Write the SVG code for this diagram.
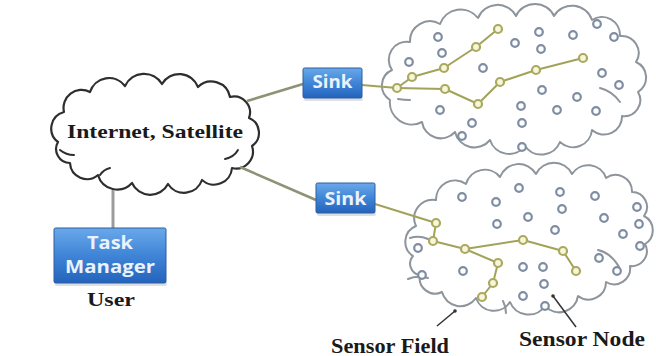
<svg xmlns="http://www.w3.org/2000/svg" width="656" height="356" viewBox="0 0 656 356">
<defs>
<linearGradient id="blue" x1="0" y1="0" x2="0" y2="1">
<stop offset="0" stop-color="#6aa8ea"/>
<stop offset="0.5" stop-color="#3f85d6"/>
<stop offset="1" stop-color="#2463bd"/>
</linearGradient>
<style>
.cloudI{fill:#fff;stroke:#2e2e2e;stroke-width:2.2;stroke-linejoin:round}
.cloudS{fill:#fff;stroke:#8d949b;stroke-width:2;stroke-linejoin:round}
.inI{fill:none;stroke:#2e2e2e;stroke-width:2;stroke-linecap:round}
.inS{fill:none;stroke:#8d949b;stroke-width:2;stroke-linecap:round}
.sn{fill:#fff;stroke:#7f8da3;stroke-width:2.2}
.pn{fill:#f7f6d8;stroke:#a9a960;stroke-width:2.2}
.route{fill:none;stroke:#a2a25a;stroke-width:2;stroke-linejoin:round}
.link{fill:none;stroke:#8f9275;stroke-width:2.6}
.vlink{fill:none;stroke:#9c9c9c;stroke-width:3}
.box{fill:url(#blue);stroke:#2d5f9e;stroke-width:1}
.shadow{fill:#9aa4b0;opacity:0.35}
.btxt{font-family:"Open Sans","DejaVu Sans",sans-serif;font-weight:bold;fill:#eaf2fb;text-anchor:middle}
.lbl{font-family:"Liberation Serif","Times New Roman",serif;font-weight:bold;fill:#1a1a1a}
.ptr{stroke:#333;stroke-width:1.5;fill:none}
</style>
</defs>
<rect width="656" height="356" fill="#fff"/>

<g id="internet">
<path class="cloudI" d="M58,142 A17,17 0 0 1 64,112 A18,18 0 0 1 90,92 A20,20 0 0 1 125,86 A21,21 0 0 1 162,84 A20,20 0 0 1 198,87 A19,19 0 0 1 230,97 A16,16 0 0 1 249,118 A16,16 0 0 1 252,146 A17,17 0 0 1 232,168 A18,18 0 0 1 202,180 A19,19 0 0 1 168,184 A20,20 0 0 1 132,183 A20,20 0 0 1 98,175 A17,17 0 0 1 70,163 A14,14 0 0 1 58,142 Z"/>
<path class="inI" d="M60,150 q6,5 14,5"/>
<path class="inI" d="M238,150 q-4,7 -13,9"/>
<path class="inI" d="M100,175 q3,-5 10,-7"/>
<text class="lbl" x="67" y="138" font-size="19" textLength="176" lengthAdjust="spacingAndGlyphs">Internet, Satellite</text>
</g>

<g id="field1">
<path class="cloudS" d="M390,100 A17,17 0 0 1 392,70 A18,18 0 0 1 410,42 A20,20 0 0 1 440,24 A22,22 0 0 1 478,18 A21,21 0 0 1 516,16 A21,21 0 0 1 554,16 A21,21 0 0 1 592,20 A18,18 0 0 1 620,36 A17,17 0 0 1 636,62 A17,17 0 0 1 638,92 A16,16 0 0 1 622,116 A18,18 0 0 1 592,130 A19,19 0 0 1 560,142 A20,20 0 0 1 525,146 A20,20 0 0 1 490,140 A20,20 0 0 1 455,132 A19,19 0 0 1 422,122 A22,22 0 0 1 390,100 Z"/>
<path class="inS" d="M398,99 q6,1 12,1"/>
<path class="inS" d="M600,88 q12,3 20,14"/>
</g>

<g id="field2">
<path class="cloudS" d="M413,256 A17,17 0 0 1 416,226 A18.5,18.5 0 0 1 436,200 A19,19 0 0 1 466,184 A19.5,19.5 0 0 1 500,177 A20,20 0 0 1 536,174 A20,20 0 0 1 572,174 A19,19 0 0 1 606,178 A16.5,16.5 0 0 1 632,192 A15,15 0 0 1 644,216 A16,16 0 0 1 645,244 A15,15 0 0 1 630,266 A16,16 0 0 1 606,282 A17.5,17.5 0 0 1 578,296 A19,19 0 0 1 545,306 A20,20 0 0 1 510,302 A19,19 0 0 1 476,298 A19,19 0 0 1 442,292 A15.5,15.5 0 0 1 420,275 A11.5,11.5 0 0 1 413,256 Z"/>
<path class="inS" d="M410,238 q9,-3 18,1"/>
<path class="inS" d="M408,279 q9,-4 20,-1"/>
<path class="inS" d="M598,250 q13,3 21,17"/>
<path class="inS" d="M503,301 q3,6 3,12"/>
</g>

<g id="connectors">
<line class="link" x1="247" y1="101" x2="303" y2="84"/>
<line class="link" x1="240" y1="167" x2="316" y2="200"/>
<line class="vlink" x1="113" y1="190" x2="113" y2="228"/>
<polyline class="route" points="362,85 397,88 412,77 444,68 476,47 498,29"/>
<polyline class="route" points="397,88 445,89 478,104 500,82 536,70 583,58"/>
<polyline class="route" points="375,204 436,223 433,241 465,249 523,240 563,251 576,271"/>
<polyline class="route" points="465,249 498,263 493,283 482,297"/>
<line class="ptr" x1="437" y1="326" x2="455" y2="311"/>
<circle cx="455" cy="311" r="1.8" fill="#333"/>
<line class="ptr" x1="576" y1="327" x2="553" y2="296"/>
<circle cx="553" cy="296" r="1.8" fill="#333"/>
</g>

<g id="sensor-nodes">
<circle class="sn" cx="438" cy="37" r="3.8"/><circle class="sn" cx="442" cy="53" r="3.8"/><circle class="sn" cx="409" cy="62" r="3.8"/><circle class="sn" cx="483" cy="68" r="3.8"/><circle class="sn" cx="515" cy="43" r="3.8"/><circle class="sn" cx="539" cy="32" r="3.8"/><circle class="sn" cx="541" cy="49" r="3.8"/><circle class="sn" cx="573" cy="35" r="3.8"/><circle class="sn" cx="597" cy="24" r="3.8"/><circle class="sn" cx="614" cy="37" r="3.8"/><circle class="sn" cx="602" cy="73" r="3.8"/><circle class="sn" cx="619" cy="85" r="3.8"/><circle class="sn" cx="542" cy="90" r="3.8"/><circle class="sn" cx="577" cy="97" r="3.8"/><circle class="sn" cx="521" cy="106" r="3.8"/><circle class="sn" cx="557" cy="110" r="3.8"/><circle class="sn" cx="596" cy="111" r="3.8"/><circle class="sn" cx="522" cy="123" r="3.8"/><circle class="sn" cx="440" cy="110" r="3.8"/><circle class="sn" cx="472" cy="123" r="3.8"/><circle class="sn" cx="462" cy="136" r="3.8"/><circle class="sn" cx="522" cy="147" r="3.8"/>
<circle class="sn" cx="462" cy="197" r="3.8"/><circle class="sn" cx="496" cy="202" r="3.8"/><circle class="sn" cx="497" cy="224" r="3.8"/><circle class="sn" cx="519" cy="188" r="3.8"/><circle class="sn" cx="560" cy="192" r="3.8"/><circle class="sn" cx="595" cy="196" r="3.8"/><circle class="sn" cx="637" cy="207" r="3.8"/><circle class="sn" cx="562" cy="209" r="3.8"/><circle class="sn" cx="528" cy="217" r="3.8"/><circle class="sn" cx="604" cy="218" r="3.8"/><circle class="sn" cx="639" cy="224" r="3.8"/><circle class="sn" cx="555" cy="230" r="3.8"/><circle class="sn" cx="623" cy="234" r="3.8"/><circle class="sn" cx="640" cy="246" r="3.8"/><circle class="sn" cx="599" cy="258" r="3.8"/><circle class="sn" cx="617" cy="271" r="3.8"/><circle class="sn" cx="523" cy="267" r="3.8"/><circle class="sn" cx="543" cy="267" r="3.8"/><circle class="sn" cx="544" cy="284" r="3.8"/><circle class="sn" cx="523" cy="296" r="3.8"/><circle class="sn" cx="545" cy="306" r="3.8"/><circle class="sn" cx="418" cy="248" r="3.8"/><circle class="sn" cx="422" cy="275" r="3.8"/><circle class="sn" cx="463" cy="271" r="3.8"/>
</g>

<g id="route-nodes">
<circle class="pn" cx="397" cy="88" r="4"/><circle class="pn" cx="412" cy="77" r="4"/><circle class="pn" cx="444" cy="68" r="4"/><circle class="pn" cx="476" cy="47" r="4"/><circle class="pn" cx="498" cy="29" r="4"/><circle class="pn" cx="445" cy="89" r="4"/><circle class="pn" cx="478" cy="104" r="4"/><circle class="pn" cx="500" cy="82" r="4"/><circle class="pn" cx="536" cy="70" r="4"/><circle class="pn" cx="583" cy="58" r="4"/>
<circle class="pn" cx="436" cy="223" r="4"/><circle class="pn" cx="433" cy="241" r="4"/><circle class="pn" cx="465" cy="249" r="4"/><circle class="pn" cx="523" cy="240" r="4"/><circle class="pn" cx="563" cy="251" r="4"/><circle class="pn" cx="576" cy="271" r="4"/><circle class="pn" cx="498" cy="263" r="4"/><circle class="pn" cx="493" cy="283" r="4"/><circle class="pn" cx="482" cy="297" r="4"/>
</g>

<g id="sink1">
<rect class="shadow" x="304" y="97" width="59" height="4" rx="2"/>
<rect class="box" x="303" y="68" width="59" height="30" rx="1.5"/>
<text class="btxt" x="332.5" y="88" font-size="17" textLength="40" lengthAdjust="spacingAndGlyphs">Sink</text>
</g>

<g id="sink2">
<rect class="shadow" x="317" y="212" width="59" height="4" rx="2"/>
<rect class="box" x="316" y="183" width="59" height="30" rx="1.5"/>
<text class="btxt" x="345.5" y="205" font-size="17" textLength="42" lengthAdjust="spacingAndGlyphs">Sink</text>
</g>

<g id="taskmanager">
<rect class="shadow" x="55" y="282" width="112" height="4" rx="2"/>
<rect class="box" x="54" y="228" width="112" height="55" rx="1.5"/>
<text class="btxt" x="110" y="249" font-size="18" textLength="46" lengthAdjust="spacingAndGlyphs">Task</text>
<text class="btxt" x="110" y="273" font-size="18" textLength="90" lengthAdjust="spacingAndGlyphs">Manager</text>
<text class="lbl" x="87" y="306" font-size="19" textLength="48" lengthAdjust="spacingAndGlyphs">User</text>
</g>

<g id="labels">
<text class="lbl" x="331" y="353" font-size="20" textLength="118" lengthAdjust="spacingAndGlyphs">Sensor Field</text>
<text class="lbl" x="519" y="346" font-size="20" textLength="126" lengthAdjust="spacingAndGlyphs">Sensor Node</text>
</g>
</svg>
